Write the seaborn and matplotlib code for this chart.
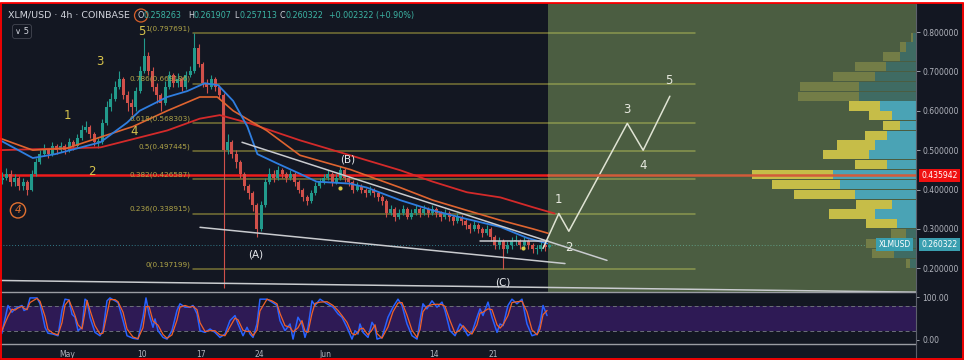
#importing the libraries
import numpy as np
import pandas as pd
import matplotlib
matplotlib.use("Agg")
import matplotlib.pyplot as plt
import matplotlib.patches as mpatches
import matplotlib.transforms as mtrans
from matplotlib.lines import Line2D
import seaborn as sns

#---------------- data ----------------
candle_start = "2021-04-23"          # 12h candles
first_open = 0.425
closes = [.43,.44,.42,.43,.41,.42,.40,.44,.47,.49,
          .50,.49,.51,.50,.51,.50,.52,.51,.53,.55,
          .56,.54,.52,.52,.57,.61,.63,.66,.68,.64,
          .62,.61,.65,.70,.74,.70,.66,.64,.62,.66,
          .69,.67,.68,.66,.69,.70,.76,.72,.67,.66,
          .68,.66,.64,.50,.52,.49,.47,.44,.41,.39,
          .36,.30,.36,.42,.44,.43,.45,.44,.43,.44,
          .42,.40,.38,.37,.39,.41,.42,.43,.44,.42,
          .43,.45,.43,.42,.40,.41,.40,.39,.40,.39,
          .38,.37,.34,.35,.33,.34,.35,.33,.34,.35,
          .34,.35,.34,.35,.34,.33,.34,.33,.32,.33,
          .32,.31,.30,.31,.30,.29,.30,.28,.26,.27,
          .25,.26,.27,.27,.26,.27,.26,.25,.25,.26,
          .255,.2603]
highs = [.445,.455,.45,.44,.435,.43,.425,.45,.48,.50,
         .515,.505,.52,.515,.52,.515,.53,.525,.54,.565,
         .575,.565,.545,.53,.58,.625,.645,.675,.70,.685,
         .65,.63,.66,.715,.785,.75,.71,.67,.645,.675,
         .70,.695,.695,.685,.70,.715,.7977,.77,.725,.68,
         .69,.685,.665,.645,.54,.525,.50,.475,.445,.415,
         .395,.365,.37,.43,.455,.45,.46,.455,.445,.45,
         .445,.425,.405,.385,.40,.42,.43,.44,.45,.445,
         .44,.46,.455,.435,.425,.42,.415,.405,.41,.405,
         .395,.385,.375,.36,.355,.35,.36,.355,.35,.36,
         .355,.36,.355,.36,.355,.345,.35,.345,.335,.34,
         .335,.325,.315,.32,.315,.305,.31,.305,.285,.28,
         .275,.27,.28,.285,.275,.28,.275,.265,.26,.27,
         .265,.262]
lows = [.415,.425,.41,.41,.40,.40,.385,.395,.435,.465,
        .485,.48,.485,.49,.495,.49,.495,.50,.505,.525,
        .545,.53,.51,.505,.515,.565,.60,.625,.655,.63,
        .60,.59,.60,.645,.695,.69,.65,.62,.60,.615,
        .655,.66,.66,.65,.655,.685,.695,.71,.66,.645,
        .655,.65,.63,.15,.49,.48,.455,.43,.40,.375,
        .345,.28,.295,.355,.415,.42,.425,.43,.42,.425,
        .41,.39,.37,.36,.365,.385,.405,.415,.425,.41,
        .415,.425,.42,.41,.39,.395,.39,.38,.385,.38,
        .37,.36,.33,.335,.32,.325,.335,.325,.325,.335,
        .33,.335,.33,.335,.33,.32,.325,.32,.31,.315,
        .31,.30,.29,.295,.29,.28,.285,.27,.25,.25,
        .197,.24,.25,.26,.25,.255,.25,.24,.235,.245,
        .245,.251]

# moving averages (day offset from May 1, price)
fast_t = [-8.0,-4.1,-1.4,4.0,7.2,8.7,12.0,14.4,16.5,18.1,19.9,21.6,22.8,25.1,27.9,29.9,33.9,35.9,39.9,43.8,47.9,51.9,55.1,57.5]
fast_ma = [0.525,0.48,0.49,0.52,0.57,0.60,0.635,0.65,0.67,0.665,0.625,0.56,0.49,0.467,0.44,0.42,0.415,0.405,0.373,0.347,0.325,0.305,0.277,0.263]
mid_t = [-8.0,-4.1,0.0,4.0,7.9,12.0,15.9,18.0,19.9,23.9,27.9,33.9,39.9,43.8,47.9,51.9,55.8,57.6]
mid_ma = [0.53,0.50,0.505,0.533,0.56,0.60,0.635,0.635,0.60,0.55,0.487,0.451,0.405,0.373,0.347,0.322,0.30,0.289]
slow_t = [-8.0,4.0,12.0,15.9,18.3,21.9,27.9,33.9,39.9,43.8,47.9,51.9,55.8,58.4]
slow_ma = [0.50,0.507,0.55,0.58,0.589,0.568,0.525,0.487,0.449,0.42,0.393,0.38,0.355,0.339]

# fibonacci retracement
fib_ratios = ['1', '0.786', '0.618', '0.5', '0.382', '0.236', '0']
fib_prices = [0.797691, 0.669186, 0.568303, 0.497445, 0.426587, 0.338915, 0.197199]
fib_span = [15.1, 75.2]

resistance = 0.435942
last_price = 0.260322

# volume profile rows
vp_prices = [0.787,0.762,0.737,0.712,0.687,0.662,0.637,0.612,0.588,0.563,0.538,0.513,
             0.488,0.463,0.438,0.413,0.388,0.363,0.338,0.313,0.288,0.263,0.238,0.213]
vp_up = [3,10,16,30,41,57,57,36,24,16,29,41,47,29,83,76,61,24,41,19,10,35,22,6]
vp_down = [2,6,17,31,42,59,61,31,23,17,22,38,46,32,81,68,61,36,46,31,15,15,22,4]
vp_value_area = [False]*7 + [True]*13 + [False]*4

# drawings
upper_t, upper_p = [20.96, 64.67], [0.520, 0.220]
lower_t, lower_p = [15.93, 59.64], [0.304, 0.212]
base_t, base_p = [49.46, 57.6], [0.269, 0.269]
floor_t, floor_p = [-8.02, 101.68], [0.169, 0.1394]
forecast_t = [57.0, 58.9, 60.1, 67.1, 69.0, 72.2]
forecast_p = [0.2504, 0.339, 0.294, 0.568, 0.4997, 0.637]

wave_labels = ['1', '2', '3', '4', '5']
wave_t = [0.0, 3.0, 3.95, 8.0, 8.98]
wave_p = [0.589, 0.446, 0.724, 0.548, 0.8025]
abc_labels = ['(A)', '(B)', '(C)']
abc_t = [22.6, 33.65, 52.2]
abc_p = [0.235, 0.477, 0.164]
fc_labels = ['1', '2', '3', '4', '5']
fc_t = [58.8, 60.1, 67.1, 69.0, 72.1]
fc_p = [0.375, 0.253, 0.604, 0.462, 0.678]
dots_t = [32.7, 54.6]
dots_p = [0.403, 0.2504]
circle4_t, circle4_p = -5.87, 0.347

# stochastic
stoch_t = [-7.82,-7.07,-6.59,-6.23,-5.87,-5.39,-5.15,-4.79,-4.43,-3.59,
           -3.23,-2.63,-2.28,-1.68,-1.08,-0.60,-0.24,0.24,0.60,0.96,
           1.32,1.80,2.16,2.40,2.75,3.35,3.95,4.31,4.79,5.15,
           5.75,6.11,6.71,7.19,7.90,8.50,9.10,9.46,9.82,10.30,
           10.54,10.90,11.50,11.98,12.57,13.17,13.53,14.13,14.73,15.09,
           15.57,15.93,16.53,17.13,17.72,18.32,18.92,19.52,20.12,20.48,
           21.08,21.56,21.92,22.28,22.75,23.11,23.95,24.55,25.15,25.51,
           26.11,26.71,27.07,27.66,28.14,28.50,28.86,29.34,29.70,30.30,
           31.14,31.86,32.46,32.93,33.53,34.13,34.49,34.85,35.09,35.45,
           36.05,36.53,36.89,37.13,37.72,38.44,39.04,39.64,40.12,40.72,
           41.32,41.92,42.28,42.63,43.11,43.71,44.31,44.91,45.27,45.87,
           46.47,47.07,47.43,48.02,48.50,49.10,49.46,49.82,50.42,50.90,
           51.50,51.86,52.22,52.81,53.29,53.89,54.49,55.09,55.69,56.29,
           56.65,57.01,57.49]
stoch_k = [14,81,65,73,77,81,69,73,99,99,
           85,29,15,13,9,69,96,94,60,53,
           21,29,96,92,53,17,9,21,92,99,
           92,88,45,9,3,1,53,99,61,29,
           49,21,5,1,21,69,85,77,77,81,
           61,21,17,25,17,5,13,45,57,37,
           9,29,13,5,37,96,96,89,81,45,
           21,37,1,53,37,5,29,92,81,96,
           85,77,61,53,29,1,21,13,37,17,
           5,41,29,1,5,53,77,96,81,37,
           9,1,45,85,73,92,77,89,69,21,
           9,37,29,9,17,53,73,57,89,53,
           17,37,33,81,96,85,96,37,9,13,
           37,81,57]
stoch_d = [20,55,72,70,75,79,74,71,88,98,
           91,55,24,15,11,40,82,94,76,57,
           35,25,65,93,70,33,13,15,60,95,
           95,90,65,25,6,2,28,78,79,44,
           40,34,12,3,11,46,77,81,77,79,
           71,40,19,21,21,11,9,30,51,47,
           22,19,20,9,22,68,96,92,85,62,
           33,29,18,28,45,20,17,62,86,89,
           90,81,69,57,41,14,11,17,25,27,
           11,23,35,14,3,30,66,87,88,58,
           22,5,24,66,79,83,84,83,79,45,
           15,23,33,19,13,35,63,65,73,71,
           35,27,35,57,88,90,91,66,23,11,
           25,59,69]

price_ticks = [0.2, 0.3, 0.4, 0.5, 0.6, 0.7, 0.8]
date_ticks = ['2021-05-01', '2021-05-10', '2021-05-17', '2021-05-24', '2021-06-01', '2021-06-14', '2021-06-21']
date_labels = ['May', '10', '17', '24', 'Jun', '14', '21']

#---------------- styling ----------------
sns.set_theme(style="dark")
plt.rcParams['font.family'] = ['DejaVu Sans']
BG = '#131722'
TXT = '#b2b5be'
W, H = 964, 360
day0 = pd.Timestamp('2021-05-01')

def px_box(x0, y0, x1, y1):
    return [x0 / W, 1 - y1 / H, (x1 - x0) / W, (y1 - y0) / H]

fig = plt.figure(figsize=(W / 100, H / 100), dpi=100, facecolor=BG)
ax = fig.add_axes(px_box(0, 4, 916, 291.5))
ax_st = fig.add_axes(px_box(0, 292.5, 916, 343.5))
for a in (ax, ax_st):
    a.set_facecolor(BG)
    for s in a.spines.values():
        s.set_visible(False)

xmin, xmax = -67 / 8.35, (916 - 67) / 8.35
ax.set_xlim(xmin, xmax)
ax.set_ylim(0.141, 0.8712)
ax_st.set_xlim(xmin, xmax)
ax_st.set_ylim(-9.5, 111.9)

#---------------- main pane ----------------
# fib levels + labels
for r, p in zip(fib_ratios, fib_prices):
    ax.plot(fib_span, [p, p], color='#c8be46', alpha=0.55, lw=1.1, zorder=1)
    ax.text(fib_span[0] - 0.35, p + 0.011, f"{r}({p:.6f})", color='#b0a548',
            fontsize=5.2, ha='right', va='center', zorder=5)

ax.axhline(resistance, xmax=(57.6 - xmin) / (xmax - xmin), color='#ee1c1c', lw=1.8, zorder=1.5)
ax.axhline(last_price, color='#3fa5b5', ls=(0, (1, 2)), lw=0.7, alpha=0.7, zorder=1.5)

# projection zone
ax.axvspan(57.6, xmax, color='#add778', alpha=0.37, lw=0, zorder=2)

# candles
dates = pd.date_range(candle_start, periods=len(closes), freq='12h')
ct = (dates - day0) / pd.Timedelta(days=1) + 0.25
opens = np.array([first_open] + closes[:-1])
closes_a = np.array(closes)
up = closes_a >= opens
cols = np.where(up, '#229a8c', '#d0504a')
ax.vlines(ct, lows, highs, color=cols, lw=0.8, zorder=3)
body = np.maximum(np.abs(closes_a - opens), 0.002)
ax.bar(ct, body, bottom=np.minimum(opens, closes_a), width=0.36, color=cols, lw=0, zorder=3)

# moving averages
sns.lineplot(x=slow_t, y=slow_ma, ax=ax, color='#d42a2a', lw=1.3, zorder=3.5)
sns.lineplot(x=mid_t, y=mid_ma, ax=ax, color='#df6430', lw=1.2, zorder=3.5)
sns.lineplot(x=fast_t, y=fast_ma, ax=ax, color='#2f7ee0', lw=1.3, zorder=3.6)

# drawings
for xs, ys in [(upper_t, upper_p), (lower_t, lower_p), (base_t, base_p), (floor_t, floor_p)]:
    ax.plot(xs, ys, color='#c9cbcf', lw=1.1, zorder=4)
ax.plot(forecast_t, forecast_p, color='#dfe3d3', lw=1.1, zorder=4)
ax.scatter(dots_t, dots_p, s=9, color='#d8cc4a', zorder=4.5, lw=0)

for lab, t, p in zip(wave_labels, wave_t, wave_p):
    ax.text(t, p, lab, color='#d8c44c', fontsize=8.5, ha='center', va='center', zorder=5)
for lab, t, p in zip(abc_labels, abc_t, abc_p):
    ax.text(t, p, lab, color='#e6e8ec', fontsize=7.5, ha='center', va='center', zorder=5)
for lab, t, p in zip(fc_labels, fc_t, fc_p):
    ax.text(t, p, lab, color='#e8eae0', fontsize=8.5, ha='center', va='center', zorder=5)
ax.text(circle4_t, circle4_p, '4', color='#e07030', fontsize=7.5, ha='center', va='center',
        style='italic', zorder=5,
        bbox=dict(boxstyle='circle,pad=0.25', fc='none', ec='#e07030', lw=1.0))

# price axis
ax.yaxis.tick_right()
ax.set_yticks(price_ticks)
ax.set_yticklabels([f"{p:.6f}" for p in price_ticks])
ax.tick_params(axis='y', colors=TXT, labelsize=5.5, length=3, width=0.6, pad=2, labelcolor=TXT)
ax.set_xticks([])
ax.set_xlabel('')
ax.set_ylabel('')

# volume profile on its own x scale
ax_vp = ax.twiny()
ax_vp.set_xlim(916, 0)
for s in ax_vp.spines.values():
    s.set_visible(False)
ax_vp.set_xticks([])
teal_c = ['#4aa3b5' if v else '#3f6b63' for v in vp_value_area]
yel_c = ['#c6bd48' if v else '#737d47' for v in vp_value_area]
ax_vp.barh(vp_prices, vp_up, height=0.0232, left=0, color=teal_c, lw=0)
ax_vp.barh(vp_prices, vp_down, height=0.0232, left=vp_up, color=yel_c, lw=0)
ax_vp.axhline(resistance, xmin=(57.6 - xmin) / (xmax - xmin), xmax=1, color='#d25b3a', lw=1.8)

blend = mtrans.blended_transform_factory(ax.transAxes, ax.transData)
ax_vp.text(939.5 / 916, resistance, f"{resistance:.6f}", transform=blend, ha='center', va='center',
           fontsize=5.5, color='white', clip_on=False,
           bbox=dict(boxstyle='square,pad=0.28', fc='#f01010', ec='none'))
ax_vp.text(939.5 / 916, last_price, f"{last_price:.6f}", transform=blend, ha='center', va='center',
           fontsize=5.5, color='white', clip_on=False,
           bbox=dict(boxstyle='square,pad=0.28', fc='#3a9fb0', ec='none'))
ax_vp.text(894.5 / 916, last_price, "XLMUSD", transform=blend, ha='center', va='center',
           fontsize=5.5, color='white',
           bbox=dict(boxstyle='square,pad=0.28', fc='#3a9fb0', ec='none'))

#---------------- stochastic pane ----------------
ax_st.axhspan(20, 80, color='#2e1a55', lw=0, zorder=0)
for lvl in (20, 80):
    ax_st.axhline(lvl, color='#6c6f7a', ls=(0, (4, 3)), lw=0.7, zorder=0.5)
sns.lineplot(x=stoch_t, y=stoch_k, ax=ax_st, color='#2962ff', lw=1.1, zorder=2)
sns.lineplot(x=stoch_t, y=stoch_d, ax=ax_st, color='#f0612a', lw=0.9, zorder=2.1)
ax_st.yaxis.tick_right()
ax_st.set_yticks([0, 100])
ax_st.set_yticklabels(['0.00', '100.00'])
tick_days = [(pd.Timestamp(d) - day0) / pd.Timedelta(days=1) for d in date_ticks]
ax_st.set_xticks(tick_days)
ax_st.set_xticklabels(date_labels)
ax_st.tick_params(axis='both', colors=TXT, labelsize=5.5, length=2.5, width=0.6, pad=2, labelcolor=TXT)
ax_st.set_xlabel('')
ax_st.set_ylabel('')

#---------------- frame lines, header ----------------
def fig_line(x0, y0, x1, y1, color, lw):
    fig.add_artist(Line2D([x0 / W, x1 / W], [1 - y0 / H, 1 - y1 / H], color=color, lw=lw, zorder=8))

fig_line(0, 292, 916, 292, '#9a9ca3', 1.0)
fig_line(0, 344, 916, 344, '#9a9ca3', 1.0)
fig_line(916, 4, 916, 359, '#5d606b', 0.8)

grey = '#d1d4dc'
teal = '#3cb4a4'
fig.text(8 / W, 1 - 15.5 / H, 'XLM/USD · 4h · COINBASE', color=grey, fontsize=6.8,
         va='center', ha='left', zorder=9)
header = [(138, 'O', grey), (144, '0.258263', teal),
          (188, 'H', grey), (194, '0.261907', teal), (234, 'L', grey), (239.5, '0.257113', teal),
          (279.5, 'C', grey), (286, '0.260322', teal), (329, '+0.002322 (+0.90%)', teal)]
for x, s, c in header:
    fig.text(x / W, 1 - 15.5 / H, s, color=c, fontsize=5.8, va='center', ha='left', zorder=9)
fig.add_artist(mpatches.Ellipse((141 / W, 1 - 15.5 / H), 13 / W, 13 / H, transform=fig.transFigure,
                                fill=False, ec='#d8602a', lw=0.9, zorder=9))
fig.text(15 / W, 1 - 31.5 / H, '∨ 5', color=grey, fontsize=6, va='center', ha='left', zorder=9,
         bbox=dict(boxstyle='round,pad=0.3', fc=BG, ec='#434651', lw=0.6))

fig.add_artist(mpatches.Rectangle((0, 1 - 2.5 / H), 1, 2.5 / H, transform=fig.transFigure,
                                  fc='white', ec='none', zorder=10))
fig.add_artist(mpatches.Rectangle((0.7 / W, 0.7 / H), 1 - 1.4 / W, 1 - 3.2 / H - 0.7 / H,
                                  transform=fig.transFigure, fill=False, ec='#ff0000', lw=1.3, zorder=11))

fig.savefig('out.png', dpi=100, facecolor=BG)
